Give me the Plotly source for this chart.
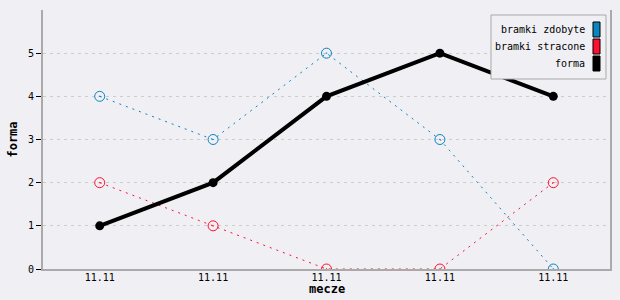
import plotly.graph_objects as go

# data
matches = ["11.11", "11.11", "11.11", "11.11", "11.11"]
bramki_zdobyte = [4, 3, 5, 3, 0]
bramki_stracone = [2, 1, 0, 0, 2]
forma = [1, 2, 4, 5, 4]
series_names = ["bramki zdobyte", "bramki stracone", "forma"]
series_colors = ["#0a84c0", "#ff1030", "#000000"]

x = list(range(len(matches)))
FONT = "DejaVu Sans Mono"
BG = "#efeff4"

fig = go.Figure()
fig.add_trace(go.Scatter(
    x=x, y=bramki_zdobyte, mode="lines+markers", name=series_names[0],
    line=dict(color=series_colors[0], width=1, dash="2px,5px"),
    marker=dict(symbol="circle-open-dot", size=10, color=series_colors[0], line=dict(width=1))))
fig.add_trace(go.Scatter(
    x=x, y=bramki_stracone, mode="lines+markers", name=series_names[1],
    line=dict(color=series_colors[1], width=1, dash="2px,5px"),
    marker=dict(symbol="circle-open-dot", size=10, color=series_colors[1], line=dict(width=1))))
fig.add_trace(go.Scatter(
    x=x, y=forma, mode="lines+markers", name=series_names[2],
    line=dict(color=series_colors[2], width=4),
    marker=dict(symbol="circle", size=9, color=series_colors[2])))

W, H = 620, 300
L, R, T, B = 43, 10, 10, 31
pw, ph = W - L - R, H - T - B

def px(xp):
    return (xp - L) / pw

def py(yp):
    return (H - B - yp) / ph

shapes = []
annotations = []
# legend box
shapes.append(dict(type="rect", xref="paper", yref="paper",
                   x0=px(491), x1=px(606), y0=py(79), y1=py(15),
                   line=dict(color="#aaaaaa", width=1), fillcolor=BG, layer="above"))
sw_top = [22, 39, 56]
for i, (name, col) in enumerate(zip(series_names, series_colors)):
    shapes.append(dict(type="rect", xref="paper", yref="paper",
                       x0=px(593), x1=px(600), y0=py(sw_top[i] + 15), y1=py(sw_top[i]),
                       line=dict(color="#000000", width=1), fillcolor=col, layer="above"))
    annotations.append(dict(xref="paper", yref="paper", x=px(587), y=py(sw_top[i] + 7.5),
                            text=name, showarrow=False, xanchor="right", yanchor="middle",
                            font=dict(family=FONT, size=10, color="#000")))
# x axis title
annotations.append(dict(xref="paper", yref="paper", x=0.5, y=py(289), text="<b>mecze</b>",
                        showarrow=False, xanchor="center", yanchor="middle",
                        font=dict(family=FONT, size=12, color="#000")))

fig.update_layout(
    width=W, height=H,
    margin=dict(l=L, r=R, t=T, b=B, autoexpand=False),
    paper_bgcolor=BG, plot_bgcolor=BG,
    showlegend=False,
    font=dict(family=FONT, size=10, color="#000"),
    shapes=shapes, annotations=annotations,
    xaxis=dict(range=[-0.5, 4.5], tickvals=x, ticktext=matches, automargin=False,
               showgrid=False, zeroline=False, showline=True, linecolor="#aaaaaa",
               linewidth=2, ticks="", tickfont=dict(family=FONT, size=10),
               ticklabelstandoff=-2),
    yaxis=dict(range=[0, 6], tickvals=[0, 1, 2, 3, 4, 5], automargin=False,
               showgrid=True, gridcolor="#cccccc", griddash="3px,4px", gridwidth=1,
               zeroline=False, showline=True, mirror=True, linecolor="#aaaaaa", linewidth=2,
               ticks="outside", ticklen=5, tickcolor="#000", tickwidth=1,
               tickfont=dict(family=FONT, size=10),
               title=dict(text="<b>forma</b>", font=dict(family=FONT, size=12), standoff=8)),
)

fig.write_html("out.html")
